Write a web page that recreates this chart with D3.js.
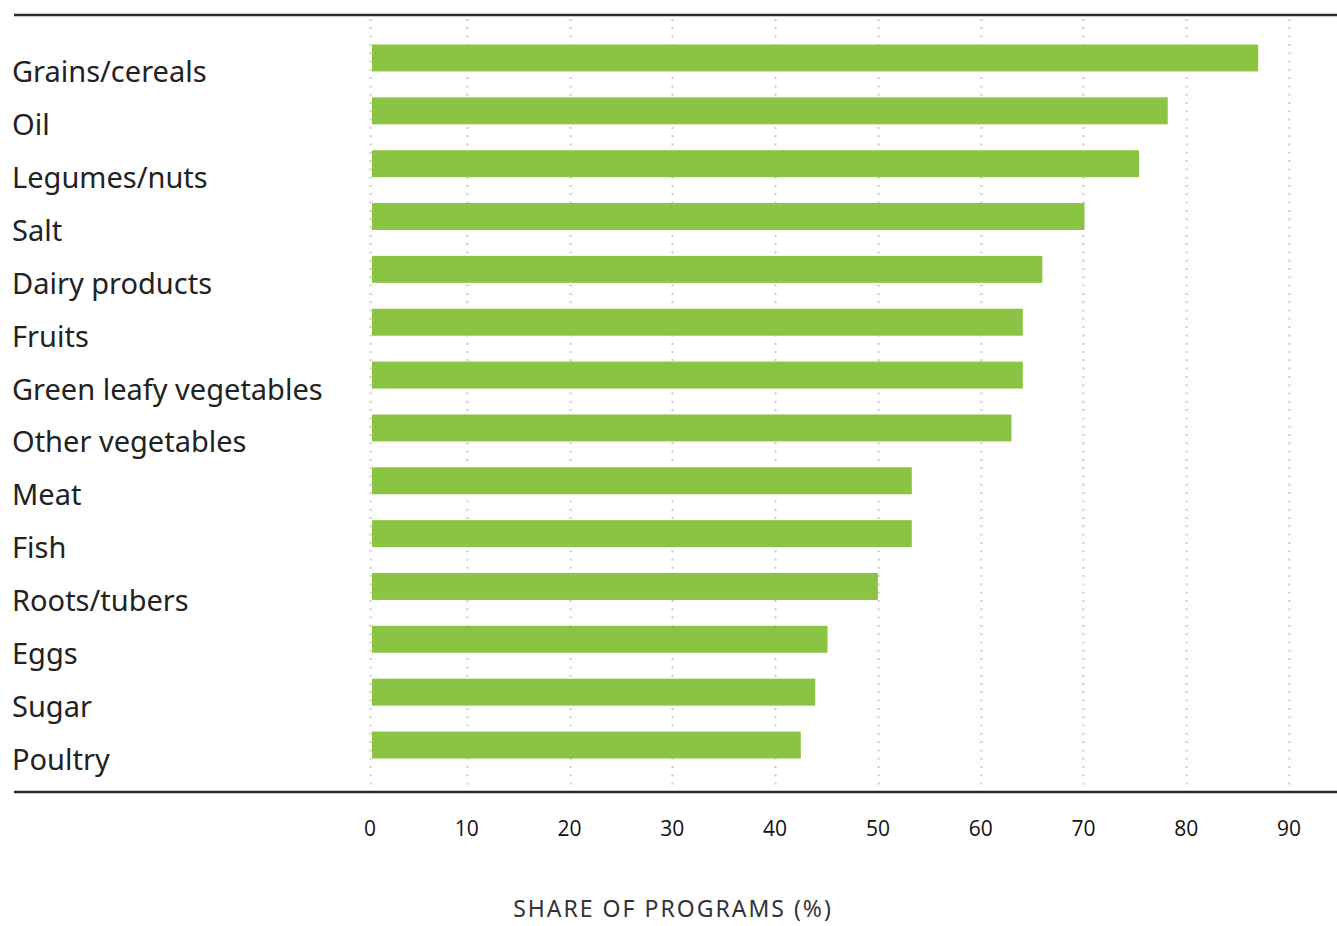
<!DOCTYPE html>
<html>
<head>
<meta charset="utf-8">
<script src="https://cdn.jsdelivr.net/npm/d3@7"></script>
<style>
  html, body { margin: 0; padding: 0; background: #fff; }
  svg { display: block; }
</style>
</head>
<body>
<svg id="chart" width="1337" height="926"></svg>
<script>
const categories = ["Grains/cereals","Oil","Legumes/nuts","Salt","Dairy products","Fruits","Green leafy vegetables","Other vegetables","Meat","Fish","Roots/tubers","Eggs","Sugar","Poultry"];
const values = [87.0, 78.2, 75.4, 70.1, 66.0, 64.1, 64.1, 63.0, 53.3, 53.3, 50.0, 45.1, 43.9, 42.5];
const tickValues = [0,10,20,30,40,50,60,70,80,90];
const axisTitle = "SHARE OF PROGRAMS (%)";

const svg = d3.select("#chart");
const W = 1337, H = 926;
const x = d3.scaleLinear().domain([0, 90]).range([364, 1289]);
const y = d3.scaleBand().domain(categories).range([44.5, 758.5]).paddingInner(0.49).paddingOuter(0);

const topY = 15, botY = 792;
const zeroLineX = 370, barLeft = 372;
const tickX = d => d === 0 ? zeroLineX : x(d);

// gridlines
svg.append("g").selectAll("line").data(tickValues).join("line")
  .attr("x1", d => Math.round(tickX(d)) + 0.5).attr("x2", d => Math.round(tickX(d)) + 0.5)
  .attr("y1", topY + 4).attr("y2", botY - 2)
  .attr("stroke", "#c9c9c9").attr("stroke-width", 2)
  .attr("stroke-dasharray", "2,6.3");

// bars
svg.append("g").selectAll("rect").data(categories).join("rect")
  .attr("x", barLeft)
  .attr("y", d => y(d))
  .attr("width", (d, i) => x(values[i]) - barLeft)
  .attr("height", y.bandwidth())
  .attr("fill", "#8bc443");

// category labels
svg.append("g").selectAll("text").data(categories).join("text")
  .attr("x", 12)
  .attr("y", d => y(d) + y.bandwidth() + 11)
  .attr("font-family", "'Noto Sans', sans-serif")
  .attr("font-size", 29)
  .attr("fill", "#222")
  .text(d => d);

// top & bottom rules
svg.append("line").attr("x1", 14).attr("x2", W).attr("y1", topY).attr("y2", topY)
  .attr("stroke", "#2b2b2b").attr("stroke-width", 2.5);
svg.append("line").attr("x1", 14).attr("x2", W).attr("y1", botY).attr("y2", botY)
  .attr("stroke", "#2b2b2b").attr("stroke-width", 2.5);

// x axis tick labels
const axis = d3.axisBottom(x).tickValues(tickValues).tickSize(0).tickPadding(0).tickFormat(d3.format("d"));
const ax = svg.append("g").attr("transform", `translate(0, ${botY})`).call(axis);
ax.select(".domain").remove();
ax.selectAll(".tick").attr("transform", d => `translate(${tickX(d)},0)`);
ax.selectAll("text")
  .attr("dy", null)
  .attr("y", 44)
  .attr("font-family", "'Open Sans', sans-serif")
  .attr("font-size", 21)
  .attr("fill", "#111");

// axis title
svg.append("text")
  .attr("x", 673).attr("y", 917)
  .attr("text-anchor", "middle")
  .attr("font-family", "'Noto Sans', sans-serif")
  .attr("font-size", 23)
  .attr("letter-spacing", 2)
  .attr("fill", "#333")
  .text(axisTitle);
</script>
</body>
</html>
